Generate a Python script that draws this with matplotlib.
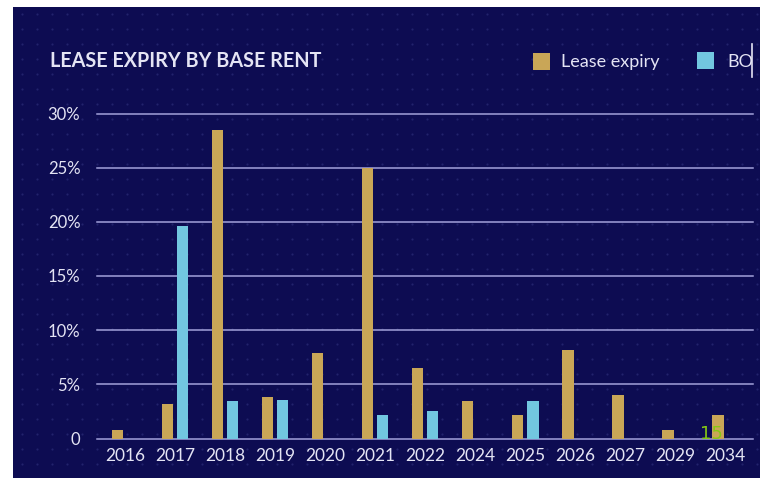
import matplotlib

matplotlib.use("Agg")
import matplotlib.pyplot as plt
import numpy as np
from matplotlib.patches import Rectangle
from matplotlib.lines import Line2D

plt.rcParams["font.family"] = ["Lato", "DejaVu Sans"]

years = ["2016", "2017", "2018", "2019", "2020", "2021", "2022",
         "2024", "2025", "2026", "2027", "2029", "2034"]
lease_expiry = [0.8, 3.2, 28.5, 3.8, 7.9, 25.0, 6.5, 3.5, 2.2, 8.2, 4.0, 0.8, 2.2]
bo = [0.0, 19.6, 3.5, 3.6, 0.0, 2.2, 2.5, 0.0, 3.5, 0.0, 0.0, 0.0, 0.0]
y_ticks = [0, 5, 10, 15, 20, 25, 30]
y_labels = ["0", "5%", "10%", "15%", "20%", "25%", "30%"]

NAVY = "#0d0c52"
GOLD = "#c9a657"
BLUE = "#72c7e0"
GRID = "#a2a2da"
TEXT = "#e4e4f4"

W, H = 760, 478
fig = plt.figure(figsize=(W / 100, H / 100), dpi=100)
fig.patch.set_facecolor("white")

# dark panel with a faint dot texture
fig.patches.append(Rectangle((13 / W, 0), 1 - 13 / W, 1 - 7 / H,
                             transform=fig.transFigure, facecolor=NAVY,
                             edgecolor="none", zorder=0))
gx, gy = np.meshgrid(np.arange(22, W, 15), np.arange(14, H - 8, 15))
fig.add_artist(Line2D(gx.ravel() / W, 1 - gy.ravel() / H, ls="none",
                      marker="o", ms=1.6, mec="none", mfc="#22226c",
                      transform=fig.transFigure, zorder=0.5))

ax = fig.add_axes([97 / W, 39.5 / H, 656 / W, 325 / H])
ax.set_zorder(2)
ax.set_facecolor("none")
x = np.arange(len(years))
w = 0.23
ax.bar(x - 0.15, lease_expiry, w, color=GOLD, zorder=3)
ax.bar(x + 0.15, bo, w, color=BLUE, zorder=3)

ax.set_xlim(-0.555, len(years) - 1 + 0.55)
ax.set_ylim(0, 30)
for t in y_ticks:
    ax.axhline(t, color=GRID, lw=1.1, zorder=2, clip_on=False)
ax.set_yticks(y_ticks, y_labels)
ax.set_xticks(x, years)
ax.tick_params(axis="y", length=0, pad=12, labelsize=12, labelcolor=TEXT)
ax.tick_params(axis="x", length=0, pad=7, labelsize=12.5, labelcolor=TEXT)
for s in ax.spines.values():
    s.set_visible(False)

fig.text(50 / W, 1 - 61 / H, "LEASE EXPIRY BY BASE RENT", color=TEXT,
         fontsize=14.2, fontweight="bold", va="center", ha="left", zorder=3)

# legend drawn by hand so it sits in the header row
fig.patches.append(Rectangle((533 / W, 1 - 70 / H), 17 / W, 17 / H,
                             transform=fig.transFigure, facecolor=GOLD,
                             edgecolor="none", zorder=3))
fig.text(561 / W, 1 - 62 / H, "Lease expiry", color=TEXT, fontsize=13,
         va="center", ha="left", zorder=3)
fig.patches.append(Rectangle((697 / W, 1 - 69 / H), 17 / W, 17 / H,
                             transform=fig.transFigure, facecolor=BLUE,
                             edgecolor="none", zorder=3))
fig.text(727 / W, 1 - 62 / H, "BO", color=TEXT, fontsize=13,
         va="center", ha="left", zorder=3)
fig.add_artist(Line2D([752 / W, 752 / W], [1 - 44 / H, 1 - 77 / H],
                      color=TEXT, lw=1.2, transform=fig.transFigure, zorder=3))

fig.text(711 / W, 1 - 434 / H, "15", color="#86c814", fontsize=13,
         va="center", ha="center", family="DejaVu Sans", zorder=4)

fig.savefig("out.png", dpi=100, facecolor=fig.get_facecolor())
